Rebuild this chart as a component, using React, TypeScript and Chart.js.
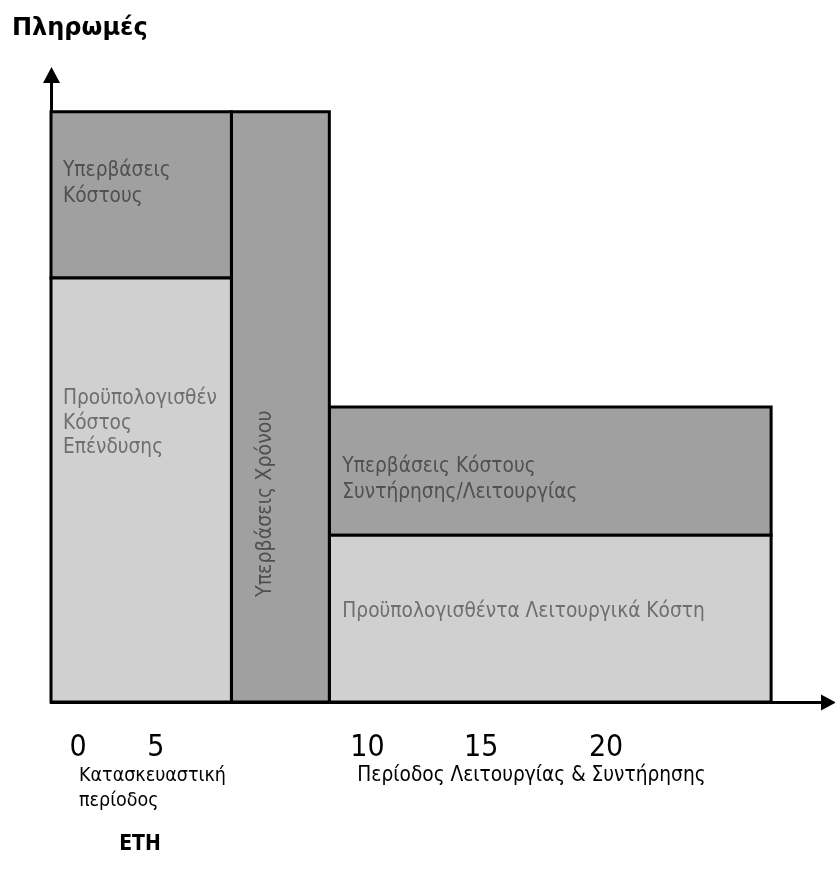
import { useEffect, useRef } from 'react';
import { Chart, registerables } from 'chart.js';

Chart.register(...registerables);

// ---- data ----
const yAxisTitle = 'Πληρωμές';
const xAxisTitle = 'ΕΤΗ';
const tickLabels = ['0', '5', '10', '15', '20'];
const tickPositions = [3.5, 13.6, 41.05, 55.8, 72.0];
const periodNames = ['Κατασκευαστική\nπερίοδος', '', 'Περίοδος Λειτουργίας & Συντήρησης'];
const periodStart = [0, 23.4, 36.1];
const periodEnd = [23.4, 36.1, 93.4];
const budgetValues = [68.4, 0, 26.9];
const overrunValues = [95.2, 95.2, 47.6];
const budgetLabels = ['Προϋπολογισθέν\nΚόστος\nΕπένδυσης', '', 'Προϋπολογισθέντα Λειτουργικά Κόστη'];
const overrunLabels = ['Υπερβάσεις\nΚόστους', 'Υπερβάσεις Χρόνου', 'Υπερβάσεις Κόστους\nΣυντήρησης/Λειτουργίας'];

// ---- styles ----
const LIGHT = '#d0d0d0';
const DARK = '#a0a0a0';
const BODY_FONT = '"DejaVu Sans Condensed", "DejaVu Sans", sans-serif';
const BLOCK_FONT_SIZE = 20.7;
const budgetLayout = [
  { dx: 12, dy: 121, gap: 24.5, color: '#6e6e6e' },
  null,
  { dx: 13, dy: 76, gap: 0, color: '#6e6e6e' },
];
const overrunLayout = [
  { dx: 12, dy: 59, gap: 26, color: '#505050' },
  { rotate: true, dx: 34, dy: 392, gap: 0, color: '#505050', size: 21.2 },
  { dx: 13, dy: 60, gap: 26, color: '#505050' },
];
const periodFontSizes = [19.5, 0, 20.7];

type Block = { x0: number; x1: number; y0: number; y1: number; fillColor: string; text: string; layout: any };

function buildBlocks(): Block[] {
  const blocks: Block[] = [];
  for (let i = 0; i < periodStart.length; i++) {
    if (budgetValues[i] > 0) {
      blocks.push({ x0: periodStart[i], x1: periodEnd[i], y0: 0, y1: budgetValues[i], fillColor: LIGHT, text: budgetLabels[i], layout: budgetLayout[i] });
    }
    blocks.push({ x0: periodStart[i], x1: periodEnd[i], y0: budgetValues[i], y1: overrunValues[i], fillColor: DARK, text: overrunLabels[i], layout: overrunLayout[i] });
  }
  return blocks;
}

const decorPlugin = {
  id: 'decor',
  afterDatasetsDraw(chart: any) {
    const { ctx, chartArea, scales } = chart;
    const xs = scales.x;
    const ys = scales.y;
    ctx.save();
    // block labels
    chart.data.datasets.forEach((ds: any) => {
      const b: Block = ds.block;
      const lay = b.layout;
      if (!lay || !b.text) return;
      const left = xs.getPixelForValue(b.x0);
      const top = ys.getPixelForValue(b.y1);
      ctx.fillStyle = lay.color;
      ctx.font = `${lay.size || BLOCK_FONT_SIZE}px ${BODY_FONT}`;
      ctx.textBaseline = 'middle';
      if (lay.rotate) {
        ctx.save();
        ctx.translate(left + lay.dx, top + lay.dy);
        ctx.rotate(-Math.PI / 2);
        ctx.textAlign = 'center';
        ctx.fillText(b.text, 0, 0);
        ctx.restore();
      } else {
        ctx.textAlign = 'left';
        b.text.split('\n').forEach((line, k) => {
          ctx.fillText(line, left + lay.dx, top + lay.dy + k * lay.gap);
        });
      }
    });
    // period names under the axis
    ctx.fillStyle = '#000';
    ctx.textAlign = 'left';
    ctx.textBaseline = 'middle';
    periodNames.forEach((name, i) => {
      if (!name) return;
      ctx.font = `${periodFontSizes[i]}px ${BODY_FONT}`;
      const x = xs.getPixelForValue(periodStart[i]) + 28;
      name.split('\n').forEach((line, k) => {
        ctx.fillText(line, x, chartArea.bottom + 74 + k * 25);
      });
    });
    // axis titles
    ctx.font = `bold 24px "DejaVu Sans", sans-serif`;
    ctx.textAlign = 'left';
    ctx.fillText(yAxisTitle, 12, 29);
    ctx.font = `bold 21px "DejaVu Sans Condensed", "DejaVu Sans", sans-serif`;
    ctx.textAlign = 'center';
    ctx.fillText(xAxisTitle, xs.getPixelForValue(periodStart[0]) + 89, chartArea.bottom + 143);
    // arrow heads
    const ax = chartArea.left + 0.5;
    ctx.fillStyle = '#000';
    ctx.beginPath();
    ctx.moveTo(ax, chartArea.top - 15);
    ctx.lineTo(ax - 8.5, chartArea.top + 1);
    ctx.lineTo(ax + 8.5, chartArea.top + 1);
    ctx.closePath();
    ctx.fill();
    const ay = chartArea.bottom + 0.5;
    ctx.beginPath();
    ctx.moveTo(chartArea.right + 14, ay);
    ctx.lineTo(chartArea.right - 1, ay - 8);
    ctx.lineTo(chartArea.right - 1, ay + 8);
    ctx.closePath();
    ctx.fill();
    ctx.restore();
  },
};

export default function App() {
  const canvasRef = useRef<HTMLCanvasElement | null>(null);

  useEffect(() => {
    if (!canvasRef.current) return;
    const blocks = buildBlocks();
    const datasets = blocks.map((b) => ({
      label: b.text,
      block: b,
      data: [
        { x: b.x0, y: b.y0 },
        { x: b.x1, y: b.y0 },
        { x: b.x1, y: b.y1 },
        { x: b.x0, y: b.y1 },
        { x: b.x0, y: b.y0 },
      ],
      backgroundColor: b.fillColor,
      borderColor: '#000',
      borderWidth: 3,
      borderJoinStyle: 'miter',
      borderCapStyle: 'square',
      fill: 'shape',
      tension: 0,
      pointRadius: 0,
      pointHoverRadius: 0,
      clip: false,
    }));

    const chart = new Chart(canvasRef.current, {
      type: 'line',
      data: { datasets } as any,
      options: {
        animation: false,
        responsive: false,
        events: [],
        layout: { padding: { left: 51, top: 82, right: 13, bottom: 0 } },
        plugins: { legend: { display: false }, tooltip: { enabled: false }, title: { display: false } },
        scales: {
          x: {
            type: 'linear',
            min: 0,
            max: 100,
            grid: { display: false },
            border: { display: true, color: '#000', width: 3 },
            afterBuildTicks: (axis: any) => {
              axis.ticks = tickPositions.map((value) => ({ value }));
            },
            afterFit: (scale: any) => {
              scale.height = 179;
            },
            ticks: {
              autoSkip: false,
              maxRotation: 0,
              padding: 20,
              color: '#000',
              font: { family: BODY_FONT, size: 30, lineHeight: 1.2 },
              callback: (_v: any, i: number) => tickLabels[i],
            },
          },
          y: {
            type: 'linear',
            min: 0,
            max: 100,
            grid: { display: false },
            border: { display: true, color: '#000', width: 3 },
            ticks: { display: false },
            afterFit: (scale: any) => {
              scale.width = 0;
            },
          },
        },
      },
      plugins: [decorPlugin],
    } as any);
    return () => chart.destroy();
  }, []);

  return (
    <div style={{ position: 'fixed', left: 0, top: 0, width: 835, height: 881, background: '#fff' }}>
      <canvas ref={canvasRef} width={835} height={881} style={{ display: 'block' }} />
    </div>
  );
}
